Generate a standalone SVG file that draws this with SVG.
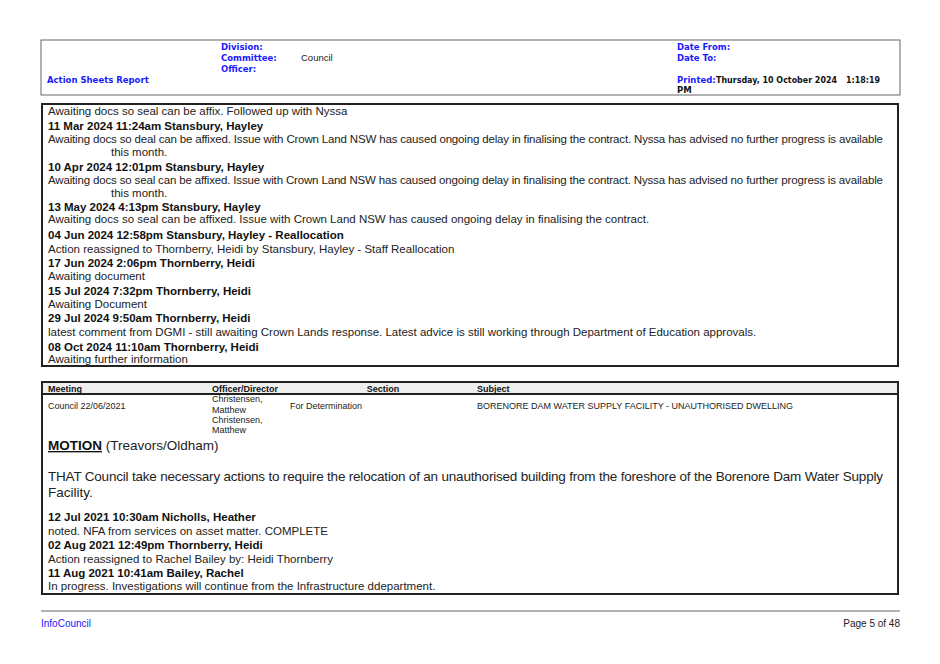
<svg xmlns="http://www.w3.org/2000/svg" width="940" height="664" viewBox="0 0 940 664">
<style>
.h{font-family:"DejaVu Sans",Verdana,sans-serif;font-weight:bold;font-size:8.5px;fill:#1a1aff}
.hk{font-family:"DejaVu Sans",Verdana,sans-serif;font-weight:bold;font-size:8.5px;fill:#111}
.t{font-family:"Liberation Sans",Arial,sans-serif;font-size:11.5px;fill:#222}
.b{font-family:"Liberation Sans",Arial,sans-serif;font-size:11.5px;font-weight:bold;fill:#111}
.s{font-family:"Liberation Sans",Arial,sans-serif;font-size:9px;fill:#222}
.sb{font-family:"Liberation Sans",Arial,sans-serif;font-size:9px;font-weight:bold;fill:#111}
.l{font-family:"Liberation Sans",Arial,sans-serif;font-size:13.5px;fill:#222}
.f{font-family:"Liberation Sans",Arial,sans-serif;font-size:10px}
</style>
<rect width="940" height="664" fill="#fff"/>
<g id="header">
<rect x="41" y="40" width="859" height="55" fill="none" stroke="#666" stroke-width="1"/>
<text class="h" x="221" y="50">Division:</text>
<text class="h" x="221" y="61">Committee:</text>
<text x="301" y="61" class="s" style="font-size:9.5px">Council</text>
<text class="h" x="221" y="72">Officer:</text>
<text class="h" x="47" y="83">Action Sheets Report</text>
<text class="h" x="677" y="50">Date From:</text>
<text class="h" x="677" y="61">Date To:</text>
<text class="h" x="677" y="83">Printed:</text>
<text class="hk" x="716" y="83" textLength="121" lengthAdjust="spacingAndGlyphs">Thursday, 10 October 2024</text>
<text class="hk" x="846" y="83" textLength="34" lengthAdjust="spacingAndGlyphs">1:18:19</text>
<text class="hk" x="677" y="93">PM</text>
</g>
<g id="notes1">
<rect x="42" y="104" width="856" height="262" fill="none" stroke="#222" stroke-width="2"/>
<text class="t" x="48" y="115">Awaiting docs so seal can be affix. Followed up with Nyssa</text>
<text class="b" x="48" y="130">11 Mar 2024 11:24am Stansbury, Hayley</text>
<text class="t" x="48" y="143" textLength="835">Awaiting docs so deal can be affixed. Issue with Crown Land NSW has caused ongoing delay in finalising the contract. Nyssa has advised no further progress is available</text>
<text class="t" x="111" y="156">this month.</text>
<text class="b" x="48" y="171">10 Apr 2024 12:01pm Stansbury, Hayley</text>
<text class="t" x="48" y="184" textLength="835">Awaiting docs so seal can be affixed. Issue with Crown Land NSW has caused ongoing delay in finalising the contract. Nyssa has advised no further progress is available</text>
<text class="t" x="111" y="197">this month.</text>
<text class="b" x="48" y="211">13 May 2024 4:13pm Stansbury, Hayley</text>
<text class="t" x="48" y="223">Awaiting docs so seal can be affixed. Issue with Crown Land NSW has caused ongoing delay in finalising the contract.</text>
<text class="b" x="48" y="239">04 Jun 2024 12:58pm Stansbury, Hayley - Reallocation</text>
<text class="t" x="48" y="253">Action reassigned to Thornberry, Heidi by Stansbury, Hayley - Staff Reallocation</text>
<text class="b" x="48" y="267">17 Jun 2024 2:06pm Thornberry, Heidi</text>
<text class="t" x="48" y="280">Awaiting document</text>
<text class="b" x="48" y="295">15 Jul 2024 7:32pm Thornberry, Heidi</text>
<text class="t" x="48" y="308">Awaiting Document</text>
<text class="b" x="48" y="322">29 Jul 2024 9:50am Thornberry, Heidi</text>
<text class="t" x="48" y="336">latest comment from DGMI - still awaiting Crown Lands response. Latest advice is still working through Department of Education approvals.</text>
<text class="b" x="48" y="351">08 Oct 2024 11:10am Thornberry, Heidi</text>
<text class="t" x="48" y="363">Awaiting further information</text>
</g>
<g id="item2">
<rect x="42" y="382" width="856" height="212" fill="none" stroke="#222" stroke-width="2"/>
<rect x="43" y="383" width="854" height="10" fill="#eee"/>
<line x1="42" y1="394" x2="898" y2="394" stroke="#222" stroke-width="2"/>
<text class="sb" x="48" y="392">Meeting</text>
<text class="sb" x="212" y="392">Officer/Director</text>
<text class="sb" x="383" y="392" text-anchor="middle">Section</text>
<text class="sb" x="477" y="392">Subject</text>
<text class="s" x="48" y="409">Council 22/06/2021</text>
<text class="s" x="212" y="402">Christensen,</text>
<text class="s" x="212" y="413">Matthew</text>
<text class="s" x="212" y="423">Christensen,</text>
<text class="s" x="212" y="433">Matthew</text>
<text class="s" x="290" y="409">For Determination</text>
<text class="s" x="477" y="409">BORENORE DAM WATER SUPPLY FACILITY - UNAUTHORISED DWELLING</text>
<text class="l" x="48" y="450"><tspan font-weight="bold" text-decoration="underline" fill="#111">MOTION</tspan> (Treavors/Oldham)</text>
<text class="l" x="48" y="481" textLength="835">THAT Council take necessary actions to require the relocation of an unauthorised building from the foreshore of the Borenore Dam Water Supply</text>
<text class="l" x="48" y="497">Facility.</text>
<text class="b" x="48" y="521">12 Jul 2021 10:30am Nicholls, Heather</text>
<text class="t" x="48" y="535">noted. NFA from services on asset matter. COMPLETE</text>
<text class="b" x="48" y="549">02 Aug 2021 12:49pm Thornberry, Heidi</text>
<text class="t" x="48" y="563">Action reassigned to Rachel Bailey by: Heidi Thornberry</text>
<text class="b" x="48" y="577">11 Aug 2021 10:41am Bailey, Rachel</text>
<text class="t" x="48" y="590">In progress. Investigations will continue from the Infrastructure ddepartment.</text>
</g>
<g id="footer">
<line x1="41" y1="611" x2="900" y2="611" stroke="#999" stroke-width="1.5"/>
<text class="f" x="41" y="627" fill="#1a1aff">InfoCouncil</text>
<text class="f" x="900" y="627" fill="#222" text-anchor="end">Page 5 of 48</text>
</g>
</svg>
